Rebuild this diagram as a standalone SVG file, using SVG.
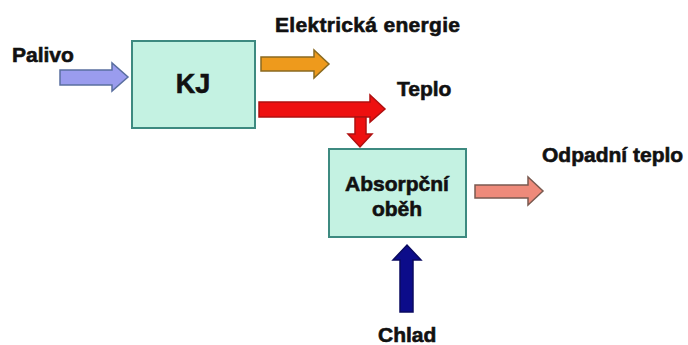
<svg xmlns="http://www.w3.org/2000/svg" width="688" height="345" viewBox="0 0 688 345">
<style>
.box{fill:#c4f2e2;stroke:#3d8a80;stroke-width:2}
.t{font-family:"Liberation Sans",Arial,sans-serif;font-weight:bold;fill:#111;stroke:#111;stroke-width:0.6}
.lbl{font-size:21px}
</style>
<rect width="688" height="345" fill="#fff"/>
<g id="connectors" stroke-width="1.5" stroke-linejoin="miter">
<polygon id="palivo-arrow" points="60,70 112,70 112,63 128,77 112,91 112,85 60,85" fill="#9a9cee" stroke="#5a6fa0"/>
<polygon id="elektricka-arrow" points="261,57 314,57 314,50 329,64 314,78 314,71 261,71" fill="#ee9a1c" stroke="#8a6a20"/>
<polygon id="teplo-arrow" points="259,102 370,102 370,95 385,109 370,122 370,117 259,117" fill="#ee1010" stroke="#b01010"/>
<polygon id="teplo-down" points="355,117 366,117 366,134 372,134 360,147 348,134 355,134" fill="#ee1010" stroke="#b01010"/>
<polygon id="odpadni-arrow" points="475,185 528,185 528,177 543,191 528,205 528,198 475,198" fill="#ee8a7a" stroke="#7a5a50"/>
<polygon id="chlad-arrow" points="400,312 400,260 393,260 407,245 421,260 413,260 413,312" fill="#0c0c8a" stroke="#0a0a60"/>
</g>
<g id="kj">
<rect class="box" x="132" y="41" width="123" height="87"/>
<text class="t" x="193" y="93" font-size="27" text-anchor="middle">KJ</text>
</g>
<g id="absorpcni">
<rect class="box" x="329" y="149" width="137" height="88"/>
<text class="t lbl" x="397" y="191" text-anchor="middle">Absorpční</text>
<text class="t lbl" x="397" y="216" text-anchor="middle">oběh</text>
</g>
<g id="labels">
<text class="t lbl" x="12" y="62">Palivo</text>
<text class="t lbl" x="275" y="32" textLength="185">Elektrická energie</text>
<text class="t lbl" x="397" y="96">Teplo</text>
<text class="t lbl" x="542" y="162">Odpadní teplo</text>
<text class="t lbl" x="378" y="342">Chlad</text>
</g>
</svg>
